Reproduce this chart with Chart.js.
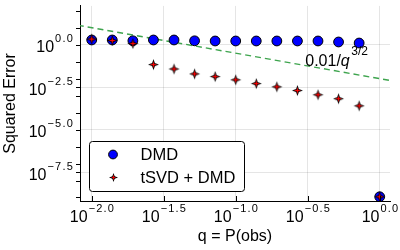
<!DOCTYPE html>
<html>
<head>
<meta charset="utf-8">
<script src="https://cdn.jsdelivr.net/npm/chart.js@4"></script>
<style>
  html, body { margin: 0; padding: 0; background: #fff; }
</style>
</head>
<body>
<canvas id="errChart" width="400" height="250"></canvas>
<script>
// q = P(obs), 15 log-spaced points from 1e-2 to 1
const qValues = [0.01, 0.01389, 0.01931, 0.02683, 0.03728, 0.05179, 0.07197, 0.1,
                 0.1389, 0.1931, 0.2683, 0.3728, 0.5179, 0.7197, 1.0];
const dmdError = [1.9, 1.9, 1.7, 1.9, 1.9, 1.7, 1.66, 1.66, 1.66, 1.66, 1.66, 1.66, 1.45, 1.26, 1.1e-9];
const tsvdError = [2.14, 1.78, 1.17, 0.0676, 0.0372, 0.0191, 0.0132, 0.00851, 0.00513,
                   0.00331, 0.0020, 0.00112, 0.00066, 0.000251, 1.1e-9];
const seriesNames = ['DMD', 'tSVD + DMD'];

// reference line 0.01/q^(3/2), end points read at the axis edges
const refLineQ = [0.008, 1.2];
const refLineError = [14.0, 0.0076];
const refLabelAt = [0.5, 0.12];

const xTickPowers = [-2, -1.5, -1, -0.5, 0];
const xTickLabels = ['\u22122.0', '\u22121.5', '\u22121.0', '\u22120.5', '0.0'];
const yTickPowers = [0, -2.5, -5, -7.5];
const yTickLabels = ['0.0', '\u22122.5', '\u22125.0', '\u22127.5'];
const yMinorPowers = [2, 1, -1, -2, -3, -4, -6, -7, -8, -9];

const FONT = '"Liberation Sans", Arial, sans-serif';

function makeStar(outer, inner, redOuter, redInner) {
    const size = Math.ceil(outer * 2) + 2;
    const c = document.createElement('canvas');
    c.width = size; c.height = size;
    const g = c.getContext('2d');
    const star = (R, r, fill) => {
        g.beginPath();
        for (let i = 0; i < 8; i++) {
            const ang = -Math.PI / 2 + i * Math.PI / 4;
            const rad = i % 2 === 0 ? R : r;
            const px = size / 2 + rad * Math.cos(ang);
            const py = size / 2 + rad * Math.sin(ang);
            i === 0 ? g.moveTo(px, py) : g.lineTo(px, py);
        }
        g.closePath();
        g.fillStyle = fill;
        g.fill();
    };
    star(outer, inner, '#000');
    star(redOuter, redInner, '#ff0000');
    return c;
}
const starImg = makeStar(5.5, 2.0, 3.6, 0.9);
const starLegend = makeStar(4.5, 1.7, 3.0, 0.8);

// draws "10" with a raised exponent
function drawPow(ctx, exp, x, baseY, align) {
    ctx.font = '16px ' + FONT;
    ctx.letterSpacing = '0px';
    const wb = ctx.measureText('10').width;
    ctx.font = '11px ' + FONT;
    ctx.letterSpacing = '1.2px';
    const we = ctx.measureText(exp).width;
    const total = wb + 1 + we;
    let left = x;
    if (align === 'center') left = x - total / 2;
    if (align === 'right') left = x - total;
    ctx.textAlign = 'left';
    ctx.textBaseline = 'alphabetic';
    ctx.font = '16px ' + FONT;
    ctx.letterSpacing = '0px';
    ctx.fillText('10', left, baseY);
    ctx.font = '11px ' + FONT;
    ctx.letterSpacing = '1.2px';
    ctx.fillText(exp, left + wb + 1, baseY - 10);
    ctx.letterSpacing = '0px';
}

const axisDecor = {
    id: 'axisDecor',
    afterDraw(chart) {
        const { ctx, chartArea: a, scales: { x, y } } = chart;
        ctx.save();
        ctx.fillStyle = '#000';
        ctx.strokeStyle = '#000';
        ctx.lineWidth = 1;

        // x ticks (inward) and labels
        xTickPowers.forEach((p, i) => {
            const px = Math.round(x.getPixelForValue(Math.pow(10, p))) + 0.5;
            ctx.beginPath();
            ctx.moveTo(px, a.bottom);
            ctx.lineTo(px, a.bottom - 5);
            ctx.stroke();
            drawPow(ctx, xTickLabels[i], px, a.bottom + 21, 'center');
        });

        // y ticks (outward), major and minor
        yTickPowers.concat(yMinorPowers).forEach(p => {
            const py = Math.round(y.getPixelForValue(Math.pow(10, p))) + 0.5;
            ctx.beginPath();
            ctx.moveTo(a.left, py);
            ctx.lineTo(a.left - 4, py);
            ctx.stroke();
        });
        yTickPowers.forEach((p, i) => {
            const py = y.getPixelForValue(Math.pow(10, p));
            drawPow(ctx, yTickLabels[i], a.left - 6, py + 7.5, 'right');
        });

        // axis titles
        ctx.font = '16px ' + FONT;
        ctx.textAlign = 'center';
        ctx.textBaseline = 'alphabetic';
        ctx.fillText('q = P(obs)', (a.left + a.right) / 2, 241);
        ctx.save();
        ctx.translate(15, (a.top + a.bottom) / 2);
        ctx.rotate(-Math.PI / 2);
        ctx.fillText('Squared Error', 0, 0);
        ctx.restore();

        // reference line label 0.01/q^{3/2}
        const lx = x.getPixelForValue(refLabelAt[0]);
        const ly = y.getPixelForValue(refLabelAt[1]);
        ctx.textAlign = 'left';
        ctx.textBaseline = 'alphabetic';
        ctx.font = '16px ' + FONT;
        const w1 = ctx.measureText('0.01/').width;
        ctx.font = 'italic 16px ' + FONT;
        const w2 = ctx.measureText('q').width;
        ctx.font = '12px ' + FONT;
        const w3 = ctx.measureText('3/2').width;
        const lLeft = lx - (w1 + w2 + 1 + w3) / 2;
        ctx.font = '16px ' + FONT;
        ctx.fillText('0.01/', lLeft, ly + 6);
        ctx.font = 'italic 16px ' + FONT;
        ctx.fillText('q', lLeft + w1, ly + 6);
        ctx.font = '12px ' + FONT;
        ctx.fillText('3/2', lLeft + w1 + w2 + 1.5, ly - 5);

        // legend box
        const bx = a.left + 9.5, by = 141.5, bw = 155, bh = 50;
        ctx.beginPath();
        ctx.roundRect(bx, by, bw, bh, 3);
        ctx.fillStyle = '#fff';
        ctx.fill();
        ctx.stroke();

        ctx.beginPath();
        ctx.arc(bx + 23.5, by + 13, 4.4, 0, Math.PI * 2);
        ctx.fillStyle = '#0000ff';
        ctx.fill();
        ctx.stroke();
        ctx.drawImage(starLegend, bx + 24 - starLegend.width / 2, by + 36 - starLegend.height / 2);

        ctx.fillStyle = '#000';
        ctx.font = '16.5px ' + FONT;
        ctx.textAlign = 'left';
        ctx.fillText(seriesNames[0], bx + 51, by + 18.5);
        ctx.fillText(seriesNames[1], bx + 51, by + 41);
        ctx.restore();
    }
};

const toPoints = (xs, ys) => xs.map((v, i) => ({ x: v, y: ys[i] }));

const ctx = document.getElementById('errChart').getContext('2d');
new Chart(ctx, {
    type: 'scatter',
    data: {
        datasets: [
            {
                type: 'line',
                data: toPoints(refLineQ, refLineError),
                borderColor: '#3ea44e',
                borderWidth: 1.4,
                borderDash: [6, 4],
                pointRadius: 0,
                fill: false,
                order: 3
            },
            {
                label: seriesNames[0],
                data: toPoints(qValues, dmdError),
                pointStyle: 'circle',
                pointRadius: 4.9,
                backgroundColor: '#0000ff',
                borderColor: '#000',
                borderWidth: 1,
                order: 2
            },
            {
                label: seriesNames[1],
                data: toPoints(qValues, tsvdError),
                pointStyle: starImg,
                order: 1
            }
        ]
    },
    options: {
        responsive: false,
        animation: false,
        layout: { padding: { left: 80, top: 5, right: 10, bottom: 49 } },
        plugins: { legend: { display: false }, tooltip: { enabled: false } },
        scales: {
            x: {
                type: 'logarithmic',
                min: 0.00829,
                max: 1.179,
                afterBuildTicks: s => { s.ticks = xTickPowers.map(p => ({ value: Math.pow(10, p) })); },
                ticks: { display: false },
                grid: { color: 'rgba(0,0,0,0.1)', drawTicks: false },
                border: { color: '#000', width: 1 }
            },
            y: {
                type: 'logarithmic',
                min: 6.2e-10,
                max: 193.6,
                afterBuildTicks: s => { s.ticks = yTickPowers.map(p => ({ value: Math.pow(10, p) })); },
                ticks: { display: false },
                grid: { color: 'rgba(0,0,0,0.1)', drawTicks: false },
                border: { color: '#000', width: 1 }
            }
        }
    },
    plugins: [axisDecor]
});
</script>
</body>
</html>
